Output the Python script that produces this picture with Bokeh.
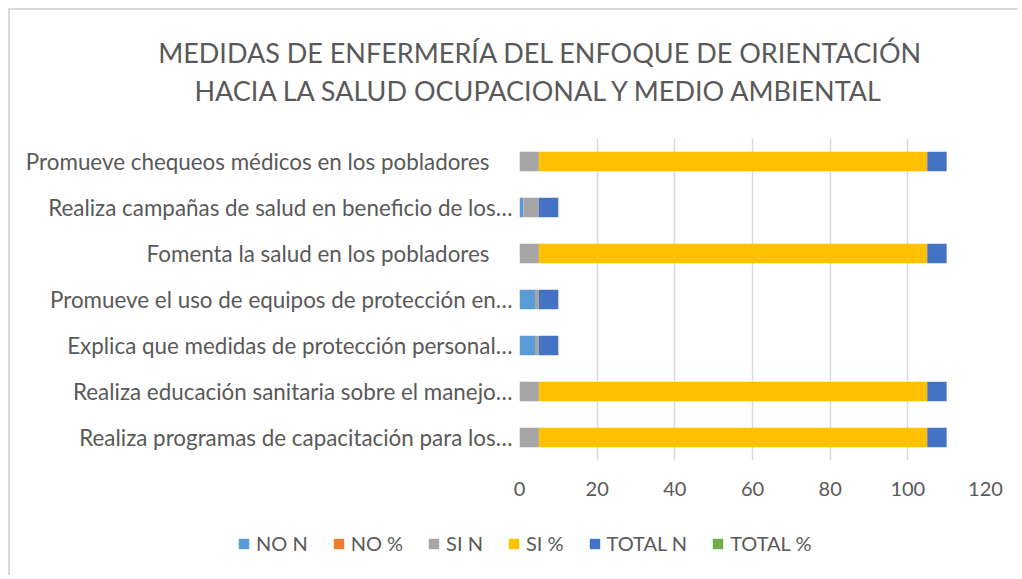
from bokeh.plotting import figure
from bokeh.models import FactorRange, Range1d, Label, Legend, LegendItem, ColumnDataSource, FixedTicker
from bokeh.embed import file_html
from bokeh.resources import INLINE

categories = [
    "Promueve chequeos médicos en los pobladores\u00a0\u00a0\u00a0\u00a0",
    "Realiza campañas de salud en beneficio de los…",
    "Fomenta la salud en los pobladores\u00a0\u00a0\u00a0\u00a0",
    "Promueve el uso de equipos de protección en…",
    "Explica que medidas de protección personal…",
    "Realiza educación sanitaria sobre el manejo…",
    "Realiza programas de capacitación para los…",
]
series_names = ["NO N", "NO %", "SI N", "SI %", "TOTAL N", "TOTAL %"]
no_n = [0, 1, 0, 4, 4, 0, 0]
no_pct = [0, 0, 0, 0, 0, 0, 0]
si_n = [5, 4, 5, 1, 1, 5, 5]
si_pct = [100, 0, 100, 0, 0, 100, 100]
total_n = [5, 5, 5, 5, 5, 5, 5]
total_pct = [0, 0, 0, 0, 0, 0, 0]
x_ticks = [0, 20, 40, 60, 80, 100, 120]
title_lines = ["MEDIDAS DE ENFERMERÍA DEL ENFOQUE DE ORIENTACIÓN",
               "HACIA LA SALUD OCUPACIONAL Y MEDIO AMBIENTAL"]
colors = ["#5B9BD5", "#ED7D31", "#A5A5A5", "#FFC000", "#4472C4", "#70AD47"]

FONT = "Lato"
TXT = "#595959"
W = 1010
BORDER = "2px solid #d9d9d9"

source = ColumnDataSource(dict(
    cat=categories,
    **{name: vals for name, vals in zip(series_names,
        [no_n, no_pct, si_n, si_pct, total_n, total_pct])}
))


def bare(height, **kw):
    f = figure(width=W, height=height, output_backend="svg", toolbar_location=None,
               x_axis_location=None, y_axis_location=None,
               min_border_left=0, min_border_right=0, min_border_top=0, min_border_bottom=0, **kw)
    f.outline_line_color = None
    f.xgrid.grid_line_color = None
    f.ygrid.grid_line_color = None
    return f


# --- title strip ---
top = bare(130, x_range=Range1d(0, 1), y_range=Range1d(0, 1))
top.styles = {"border-left": BORDER, "border-top": BORDER, "margin-left": "8px", "margin-top": "8px"}
for line, yy in [(title_lines[0], 88), (title_lines[1], 50)]:
    top.add_layout(Label(x=530, y=yy, x_units="screen", y_units="screen",
                         text=line, text_align="center", text_baseline="middle",
                         text_font=FONT, text_font_size="27px", text_color=TXT))

# --- main bars ---
p = figure(width=W, height=380, output_backend="svg", toolbar_location=None,
           y_range=FactorRange(*reversed(categories), range_padding=0),
           x_range=Range1d(0, 120),
           min_border_left=509, min_border_right=35, min_border_top=0, min_border_bottom=58)
p.styles = {"border-left": BORDER, "margin-left": "8px"}
p.outline_line_color = None
renderers = p.hbar_stack(series_names, y="cat", height=0.42, color=colors,
                         line_color=None, source=source)

p.xgrid.grid_line_color = "#d9d9d9"
p.xgrid.grid_line_width = 1.5
p.xgrid.ticker = FixedTicker(ticks=x_ticks)
p.ygrid.grid_line_color = None
p.xaxis.ticker = FixedTicker(ticks=x_ticks)
p.xaxis.axis_line_color = None
p.xaxis.major_tick_line_color = None
p.xaxis.minor_tick_line_color = None
p.xaxis.major_label_text_font = FONT
p.xaxis.major_label_text_font_size = "20px"
p.xaxis.major_label_text_color = TXT
p.xaxis.major_label_standoff = 15

p.yaxis.axis_line_color = None
p.yaxis.major_tick_line_color = None
p.yaxis.minor_tick_line_color = None
p.yaxis.major_label_text_font = FONT
p.yaxis.major_label_text_font_size = "22.4px"
p.yaxis.major_label_text_color = TXT
p.yaxis.major_label_standoff = 1

# --- legend strip (its own copies of the series, scrolled out of view) ---
leg = bare(57, x_range=Range1d(-2, -1), y_range=FactorRange(*reversed(categories)))
leg.styles = {"border-left": BORDER, "margin-left": "8px"}
leg_renderers = leg.hbar_stack(series_names, y="cat", height=0.42, color=colors,
                               line_color=None, source=source)
legend = Legend(items=[LegendItem(label=n, renderers=[r]) for n, r in zip(series_names, leg_renderers)],
                orientation="horizontal", location=(227, 20),
                glyph_width=13, glyph_height=13, label_standoff=6, spacing=24,
                padding=0, margin=0, border_line_color=None, background_fill_alpha=0,
                label_text_font=FONT, label_text_font_size="20px", label_text_color=TXT)
leg.add_layout(legend, "center")

open("out.html", "w").write(file_html((top, p, leg), INLINE))
